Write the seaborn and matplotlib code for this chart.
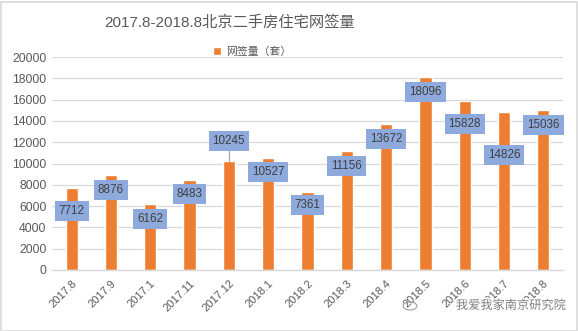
import matplotlib
matplotlib.use("Agg")
import matplotlib.pyplot as plt
import matplotlib.patheffects as pe
from matplotlib.patches import Rectangle, Circle
import seaborn as sns
import pandas as pd

# ---- data ----
months = ["2017.8", "2017.9", "2017.1", "2017.11", "2017.12", "2018.1", "2018.2",
          "2018.3", "2018.4", "2018.5", "2018.6", "2018.7", "2018.8"]
sales = [7712, 8876, 6162, 8483, 10245, 10527, 7361, 11156, 13672, 18096, 15828, 14826, 15036]
series_name = "网签量（套）"
title_text = "2017.8-2018.8北京二手房住宅网签量"
watermark = "我爱我家南京研究院"
yticks = [0, 2000, 4000, 6000, 8000, 10000, 12000, 14000, 16000, 18000, 20000]

# label box centre heights (layout, in data units)
label_y = [5540, 7510, 4790, 7140, 12110, 9200, 6060, 9770, 12300, 16710, 13710, 10800, 13610]

sns.set_theme(style="white")
plt.rcParams["font.family"] = ["Liberation Sans", "Noto Sans CJK SC", "DejaVu Sans"]

W, H = 578, 331
fig = plt.figure(figsize=(W / 100, H / 100), dpi=100)
fig.patch.set_facecolor("white")
fig.patches.append(Rectangle((0.5 / W, 0.5 / H), 1 - 2 / W, 1 - 2.5 / H,
                             transform=fig.transFigure, fill=False,
                             edgecolor="#D9D9D9", linewidth=1.2))

ax = fig.add_axes([52 / W, 1 - 270 / H, (563 - 52) / W, (270 - 57) / H])
df = pd.DataFrame({"month": months, "sales": sales})
sns.barplot(data=df, x="month", y="sales", color="#ED7D31", saturation=1,
            width=0.31, ax=ax, label=series_name)

ax.set_ylim(0, 20000)
ax.set_xlim(-0.5, len(months) - 0.5)
ax.set_yticks(yticks)
ax.set_yticklabels([str(v) for v in yticks], fontsize=8.8, color="#595959")
ax.yaxis.grid(True, color="#D9D9D9", linewidth=0.9)
ax.set_axisbelow(True)
for s in ["top", "right", "left"]:
    ax.spines[s].set_visible(False)
ax.spines["bottom"].set_color("#D9D9D9")
ax.spines["bottom"].set_linewidth(1)
ax.tick_params(axis="both", length=0, pad=4)
ax.set_xlabel("")
ax.set_ylabel("")
ax.set_xticks(range(len(months)))
ax.set_xticklabels(months, rotation=45, ha="right", rotation_mode="anchor",
                   fontsize=8, color="#595959")
ax.tick_params(axis="x", pad=6)

for i, (v, ly) in enumerate(zip(sales, label_y)):
    if ly > v:
        ax.plot([i, i], [v, ly - 850], color="#A6A6A6", linewidth=0.9, zorder=2)
    ax.text(i, ly, str(v), ha="center", va="center", fontsize=8.4, color="#404040",
            zorder=5,
            bbox=dict(boxstyle="square,pad=0.34", facecolor="#8EA9DB", edgecolor="none"))

fig.text(230 / W, 1 - 23 / H, title_text, ha="center", va="center",
         fontsize=11, color="#595959")

leg = ax.legend(loc="center", bbox_to_anchor=(252 / W, 1 - 52 / H),
                bbox_transform=fig.transFigure, frameon=False, fontsize=7.8,
                handlelength=0.75, handleheight=0.75, handletextpad=0.4)
for t in leg.get_texts():
    t.set_color("#595959")

fig.text(511 / W, 1 - 306 / H, watermark, ha="center", va="center", fontsize=8.8,
         color="#7F7F7F",
         path_effects=[pe.withStroke(linewidth=2, foreground="white")], zorder=10)
fig.patches.append(Circle((410 / W, 1 - 306 / H), 0.012, transform=fig.transFigure,
                          fill=False, edgecolor="#A0A0A0", linewidth=0.8, zorder=10))

fig.savefig("out.png", dpi=100)
